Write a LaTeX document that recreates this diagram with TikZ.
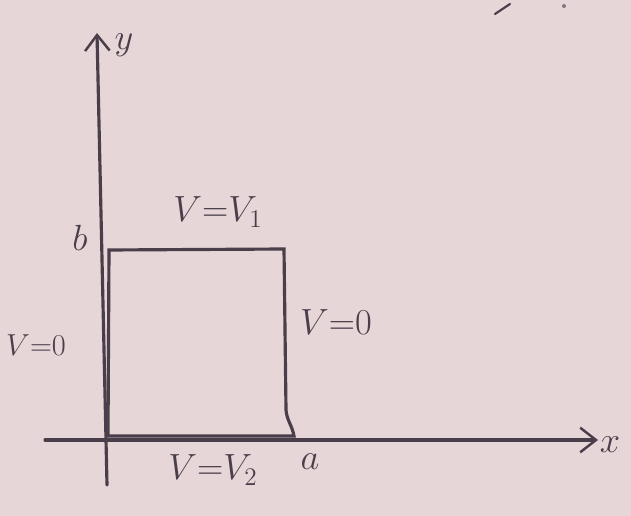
\documentclass[tikz,border=0pt]{standalone}
\usetikzlibrary{arrows.meta}
\definecolor{bg}{HTML}{E6D6D7}
\definecolor{ink}{HTML}{4A3E4A}
\begin{document}
\begin{tikzpicture}[x=0.02cm,y=-0.02cm,
  ink line/.style={draw=ink,line width=1.8pt,line cap=round},
  axis/.style={ink line,-{Straight Barb[length=9pt,width=14pt,line width=1.4pt]}},
  lab/.style={text=ink,font=\fontsize{22}{24}\selectfont,inner sep=1pt},
  small lab/.style={lab,font=\fontsize{17}{19}\selectfont}]
\fill[bg] (0,0) rectangle (631,516);
\useasboundingbox (0,0) rectangle (631,516);
% coordinates
\coordinate (ybot) at (107,485);
\coordinate (ytop) at (97,33);
\coordinate (xleft) at (45,440);
\coordinate (xright) at (598,440);
\coordinate (O) at (108,436);
\coordinate (B) at (109,250);
\coordinate (C) at (284,249);
\coordinate (A) at (294,436);
% axes
\draw[axis] (ybot) -- (ytop);
\draw[axis] (xleft) -- (xright);
% rectangle
\draw[ink line] (O) -- (B) -- (C) -- (286,410) to[out=-85,in=100] (A) -- (O);
% labels
\node[lab] (ly) at (124,45) {$y$};
\node[lab] (lx) at (610,445) {$x$};
\node[lab] (lb) at (80,238) {$b$};
\node[lab] (la) at (310,462) {$a$};
\node[lab] (top) at (218,212) {$V{=}V_1$};
\node[small lab] (left) at (36,345) {$V{=}0$};
\node[lab] (right) at (336,322) {$V{=}0$};
\node[lab] (bot) at (213,470) {$V{=}V_2$};
% stray marks at top edge
\draw[ink line,line width=1.2pt] (495,14) -- (510,4);
\fill[ink!70] (564,6) circle (2);
\end{tikzpicture}
\end{document}
